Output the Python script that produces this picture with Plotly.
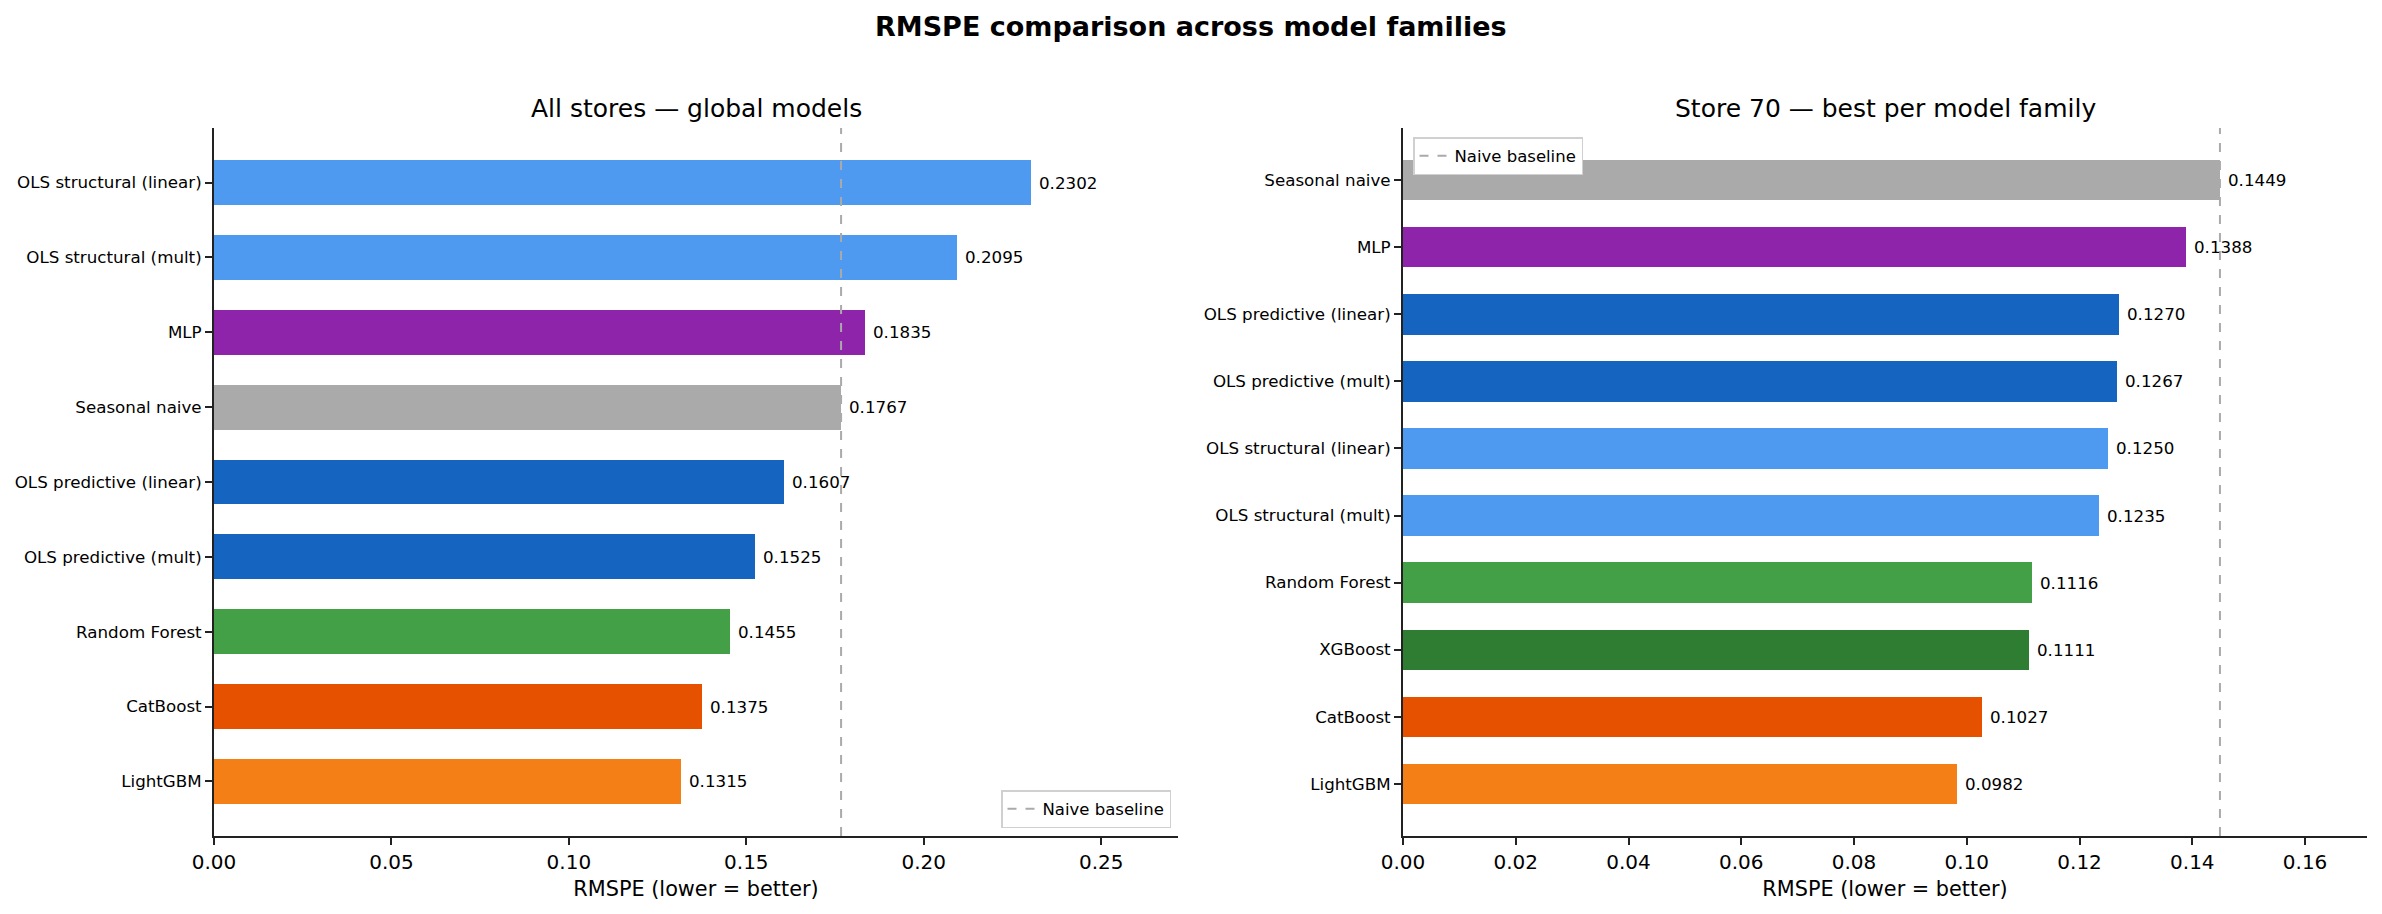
import plotly.graph_objects as go

# ---- data ----
left_models = ["LightGBM", "CatBoost", "Random Forest", "OLS predictive (mult)",
               "OLS predictive (linear)", "Seasonal naive", "MLP",
               "OLS structural (mult)", "OLS structural (linear)"]
left_rmspe = [0.1315, 0.1375, 0.1455, 0.1525, 0.1607, 0.1767, 0.1835, 0.2095, 0.2302]
left_baseline = 0.1767

right_models = ["LightGBM", "CatBoost", "XGBoost", "Random Forest",
                "OLS structural (mult)", "OLS structural (linear)",
                "OLS predictive (mult)", "OLS predictive (linear)", "MLP", "Seasonal naive"]
right_rmspe = [0.0982, 0.1027, 0.1111, 0.1116, 0.1235, 0.1250, 0.1267, 0.1270, 0.1388, 0.1449]
right_baseline = 0.1449

family_colors = {
    "LightGBM": "#F57F17",
    "CatBoost": "#E65100",
    "XGBoost": "#2E7D32",
    "Random Forest": "#43A047",
    "OLS structural (mult)": "#4E9AF0",
    "OLS structural (linear)": "#4E9AF0",
    "OLS predictive (mult)": "#1565C0",
    "OLS predictive (linear)": "#1565C0",
    "MLP": "#8E24AA",
    "Seasonal naive": "#AAAAAA",
}

left_ticks = [0.0, 0.05, 0.10, 0.15, 0.20, 0.25]
right_ticks = [0.0, 0.02, 0.04, 0.06, 0.08, 0.10, 0.12, 0.14, 0.16]

FONT = "DejaVu Sans"
W, H = 2382, 914
BAR_W = 0.6

fig = go.Figure()

panels = [
    dict(models=left_models, vals=left_rmspe, base=left_baseline, ticks=left_ticks,
         xa="x", ya="y", xdom=[214 / W, 1178 / W], tickfmt=".2f",
         title="All stores — global models", legend="legend"),
    dict(models=right_models, vals=right_rmspe, base=right_baseline, ticks=right_ticks,
         xa="x2", ya="y2", xdom=[1403 / W, 2367 / W], tickfmt=".2f",
         title="Store 70 — best per model family", legend="legend2"),
]

ydom = [1 - 836 / H, 1 - 128 / H]
annotations = []
shapes = []

for i, p in enumerate(panels):
    fig.add_trace(go.Bar(
        x=p["vals"], y=p["models"], orientation="h", width=BAR_W,
        marker=dict(color=[family_colors[m] for m in p["models"]], line=dict(width=0)),
        xaxis=p["xa"], yaxis=p["ya"], showlegend=False, hoverinfo="x+y",
    ))
    # baseline legend entry (dummy)
    fig.add_trace(go.Scatter(
        x=[None], y=[None], mode="lines", name="Naive baseline",
        line=dict(color="#AAAAAA", dash="dash", width=2),
        xaxis=p["xa"], yaxis=p["ya"], legend=p["legend"],
    ))
    shapes.append(dict(type="line", xref=p["xa"], yref=p["ya"] + " domain",
                       x0=p["base"], x1=p["base"], y0=0, y1=1,
                       line=dict(color="#AAAAAA", dash="dash", width=2), layer="above"))
    for m, v in zip(p["models"], p["vals"]):
        annotations.append(dict(x=v, y=m, xref=p["xa"], yref=p["ya"], text=f"{v:.4f}",
                                showarrow=False, xanchor="left", yanchor="middle",
                                xshift=6, font=dict(family=FONT, size=16.7, color="black")))
    cx = (p["xdom"][0] + p["xdom"][1]) / 2
    annotations.append(dict(x=cx, y=1 - 109 / H, xref="paper", yref="paper",
                            text=p["title"], showarrow=False, xanchor="center",
                            yanchor="middle", font=dict(family=FONT, size=25, color="black")))
    n = len(p["models"])
    pad = BAR_W / 2 + 0.05 * (n - 1 + BAR_W)
    axkey = "xaxis" if i == 0 else "xaxis2"
    aykey = "yaxis" if i == 0 else "yaxis2"
    fig.layout[axkey] = dict(
        domain=p["xdom"], anchor=p["ya"], range=[0, max(p["vals"]) * 1.18],
        tickvals=p["ticks"], ticktext=[f"{t:{p['tickfmt']}}" for t in p["ticks"]],
        ticks="outside", ticklen=7, tickwidth=1.5, tickcolor="#222",
        showline=True, linecolor="#222", linewidth=2, showgrid=False, zeroline=False,
        automargin=False,
        tickfont=dict(family=FONT, size=20, color="black"),
        title=dict(text="RMSPE (lower = better)", standoff=8,
                   font=dict(family=FONT, size=20.8, color="black")),
    )
    fig.layout[aykey] = dict(
        domain=ydom, anchor=p["xa"], type="category",
        categoryorder="array", categoryarray=p["models"],
        range=[-pad, n - 1 + pad],
        ticks="outside", ticklen=7, tickwidth=1.5, tickcolor="#222",
        showline=True, linecolor="#222", linewidth=2, showgrid=False, zeroline=False,
        automargin=False,
        tickfont=dict(family=FONT, size=16.7, color="black"),
    )

annotations.append(dict(x=0.5, y=1 - 26 / H, xref="paper", yref="paper",
                        text="<b>RMSPE comparison across model families</b>", showarrow=False,
                        xanchor="center", yanchor="middle",
                        font=dict(family=FONT, size=27, color="black")))

legend_style = dict(bgcolor="white", bordercolor="#D0D0D0", borderwidth=1.5,
                    font=dict(family=FONT, size=16.5, color="black"), itemwidth=30,
                    tracegroupgap=0)
fig.update_layout(
    width=W, height=H, margin=dict(l=0, r=0, t=0, b=0),
    paper_bgcolor="white", plot_bgcolor="white",
    font=dict(family=FONT, color="black"),
    annotations=annotations, shapes=shapes,
    legend=dict(x=1171 / W, y=1 - 828 / H, xanchor="right", yanchor="bottom", **legend_style),
    legend2=dict(x=1413 / W, y=1 - 137 / H, xanchor="left", yanchor="top", **legend_style),
    bargap=0,
)

fig.write_html("out.html")
